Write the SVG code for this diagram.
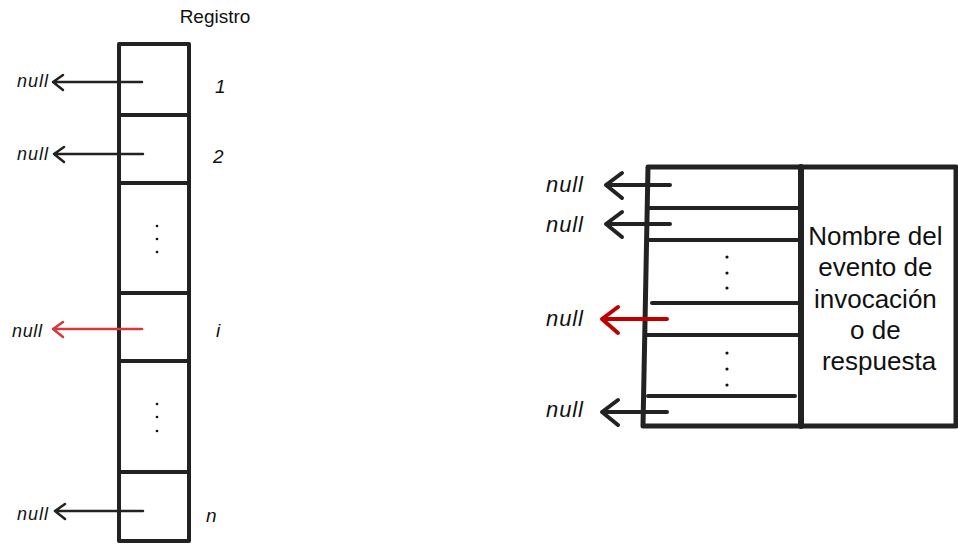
<svg xmlns="http://www.w3.org/2000/svg" width="958" height="544" viewBox="0 0 958 544">
<style>
.box{fill:#fff;stroke:#222;stroke-width:4;stroke-linejoin:round}
.box2{fill:#fff;stroke:#222;stroke-width:5;stroke-linejoin:round}
.div{stroke:#222;stroke-width:4;stroke-linecap:round}
.ln{fill:none;stroke:#222;stroke-width:2.5;stroke-linecap:round;stroke-linejoin:round}
.red{stroke:#d43a3a}
.ln2{fill:none;stroke:#222;stroke-width:4;stroke-linecap:round;stroke-linejoin:round}
.red2{stroke:#c00000}
.t{font-family:"Liberation Sans",Arial,sans-serif;fill:#111}
.it{font-style:italic}
.dot{fill:#111}
</style>
<rect width="958" height="544" fill="#fff"/>
<g id="registro">
  <text class="t" x="215" y="23" font-size="19" text-anchor="middle">Registro</text>
  <rect class="box" x="119" y="44" width="70" height="497"/>
  <line class="div" x1="119" y1="115" x2="189" y2="115"/>
  <line class="div" x1="119" y1="183" x2="189" y2="183"/>
  <line class="div" x1="119" y1="293" x2="189" y2="293"/>
  <line class="div" x1="119" y1="361" x2="189" y2="361"/>
  <line class="div" x1="119" y1="472" x2="189" y2="472"/>
  <circle class="dot" cx="157" cy="226" r="1.3"/><circle class="dot" cx="157" cy="239" r="1.3"/><circle class="dot" cx="157" cy="252" r="1.3"/>
  <circle class="dot" cx="157" cy="404" r="1.3"/><circle class="dot" cx="157" cy="417" r="1.3"/><circle class="dot" cx="157" cy="431" r="1.3"/>
  <text class="t it" x="215" y="93" font-size="19">1</text>
  <text class="t it" x="213" y="163" font-size="19">2</text>
  <text class="t it" x="216" y="337" font-size="19">i</text>
  <text class="t it" x="206" y="522" font-size="19">n</text>
  <text class="t it" x="17" y="87" font-size="18" textLength="31">null</text>
  <text class="t it" x="17" y="160" font-size="18" textLength="31">null</text>
  <text class="t it" x="12" y="337" font-size="18" textLength="30">null</text>
  <text class="t it" x="17" y="520" font-size="18" textLength="31">null</text>
</g>
<g id="evento">
  <path class="box2" d="M648 167 L956 167 L956 426 L643 426 Z"/>
  <line class="div" x1="801" y1="167" x2="801" y2="426" style="stroke-width:6"/>
  <line class="div" x1="648" y1="208" x2="799" y2="208"/>
  <line class="div" x1="647" y1="240" x2="799" y2="240"/>
  <line class="div" x1="652" y1="303" x2="799" y2="303"/>
  <line class="div" x1="646" y1="335" x2="799" y2="335"/>
  <line class="div" x1="648" y1="396" x2="795" y2="396"/>
  <circle class="dot" cx="727" cy="257" r="1.6"/><circle class="dot" cx="727" cy="273" r="1.6"/><circle class="dot" cx="727" cy="288" r="1.6"/>
  <circle class="dot" cx="727" cy="353" r="1.6"/><circle class="dot" cx="727" cy="369" r="1.6"/><circle class="dot" cx="727" cy="385" r="1.6"/>
  <text class="t" font-size="26" text-anchor="middle">
    <tspan x="879" y="245">Nombre del</tspan>
    <tspan x="879" y="276">evento de</tspan>
    <tspan x="879" y="308">invocación</tspan>
    <tspan x="879" y="339">o de</tspan>
    <tspan x="879" y="370">respuesta</tspan>
  </text>
  <text class="t it" x="546" y="192" font-size="22" textLength="37">null</text>
  <text class="t it" x="546" y="232" font-size="22" textLength="37">null</text>
  <text class="t it" x="546" y="326" font-size="22" textLength="37">null</text>
  <text class="t it" x="546" y="417" font-size="22" textLength="37">null</text>
</g>
<g id="connectors">
  <path class="ln" d="M142 82 H53 M63 75 L53 82 L63 90"/>
  <path class="ln" d="M143 154 H54 M64 147 L54 154 L64 162"/>
  <path class="ln red" d="M142 329 H53 M63 322 L53 329 L63 337"/>
  <path class="ln" d="M143 511 H55 M65 504 L55 511 L65 519"/>
  <path class="ln2" d="M670 185 H606 M622 173 L606 185 L622 198"/>
  <path class="ln2" d="M670 224 H606 M622 212 L606 224 L622 237"/>
  <path class="ln2 red2" d="M667 319 H602 M618 307 L602 319 L618 333"/>
  <path class="ln2" d="M667 412 H602 M618 400 L602 412 L618 425"/>
</g>
</svg>
